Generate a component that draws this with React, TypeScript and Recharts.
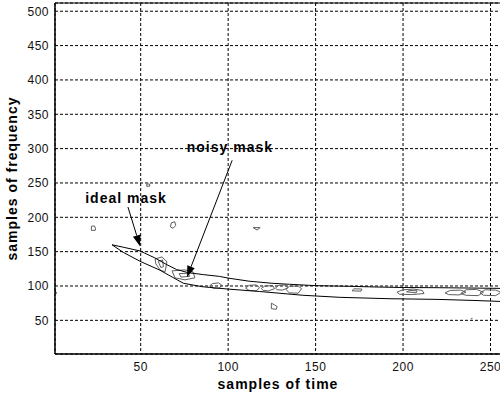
import React from 'react';
import {
  LineChart,
  Line,
  XAxis,
  YAxis,
  CartesianGrid,
  ReferenceArea,
  ReferenceLine,
  ReferenceDot,
  Label,
} from 'recharts';

// tick labels
const X_TICKS = [50, 100, 150, 200, 250];
const Y_TICKS = [50, 100, 150, 200, 250, 300, 350, 400, 450, 500];

// ideal mask contour (black): upper edge then lower edge back
const idealUpper = [
  [33.6, 160], [40, 156.5], [49.6, 151], [58, 141], [65, 131], [70.5, 124], [77, 119.5],
  [86, 116.5], [95, 114], [100, 111.5], [112, 107], [125, 104], [135, 102.5], [150, 100.5],
  [170, 99.5], [185, 98.5], [200, 97.8], [220, 97.5], [240, 97], [256, 96.5],
];
const idealLower = [
  [256, 77.5], [240, 79], [220, 80.5], [192, 81.5], [164, 83.5], [142.7, 86.5], [118, 92],
  [100, 95.5], [85, 99], [74.4, 104], [68, 113], [61, 123], [49.6, 136], [40, 149], [33.6, 160],
];
const idealEdge = [[1, 94], [1.8, 89]];

// noisy mask contours (grey)
const noisyA = [[58.2, 139.4], [62.2, 142.3], [65, 135.1], [63.9, 120.6], [61, 123.5], [58.7, 132.2], [58.2, 139.4]];
const noisyA2 = [[60, 136], [62.5, 138], [63, 128], [61.5, 127], [60, 136]];
const noisyB = [[67.9, 122], [75.3, 123.5], [79.9, 120.6], [81, 111.9], [75.3, 109], [69.6, 111.9], [67.9, 122]];
const noisyB2 = [[72, 118], [77, 118.5], [78, 114], [73, 113], [72, 118]];
const noisyC = [[89.5, 100.3], [91, 103.5], [94.5, 104.5], [96.5, 101], [95, 97], [91.5, 96.5], [89.5, 100.3]];
const noisyD = [[110, 97], [112, 101], [116, 101.5], [118, 97.5], [116, 93], [112, 93.5], [110, 97]];
const noisyD2 = [[119, 96.5], [121, 100], [125.5, 100.5], [126.5, 96], [123, 93], [120, 93.5], [119, 96.5]];
const noisyE = [[127, 97], [129, 101], [133, 101.5], [134, 97], [131, 94], [128, 94.5], [127, 97]];
const noisyE2 = [[133, 95], [135, 99.5], [140, 100], [142, 96], [140, 89.5], [135, 90], [133, 95]];
const noisyF = [[170.8, 93], [172, 96], [176.5, 95.5], [176, 92.5], [170.8, 93]];
const noisyG = [[196.5, 91], [200, 94.5], [206, 95.5], [211, 93.5], [212, 89], [205, 87.5], [198, 88], [196.5, 91]];
const noisyG2 = [[202, 91.5], [204, 93.5], [208, 93], [207.5, 90], [202, 91.5]];
const noisyH = [[224, 90], [227, 93.5], [233, 94], [236, 91], [232, 87], [226, 87.5], [224, 90]];
const noisyH2 = [[233, 89], [236, 94.5], [242, 95], [246, 91], [243, 86], [236, 86.5], [233, 89]];
const noisyH3 = [[244, 90], [247, 94.5], [253, 94], [256, 91], [253, 86], [246, 86.5], [244, 90]];
const noisyS1 = [[21.8, 181], [21.8, 187], [23.5, 187.5], [24.2, 184], [24, 181], [21.8, 181]];
const noisyS2 = [[67, 186], [67.5, 192], [69.5, 193.5], [70, 188], [68.5, 184], [67, 186]];
const noisyS3 = [[53.5, 245], [53.5, 248.5], [55, 248.5], [55.3, 245.5], [53.5, 245]];
const noisyS4 = [[114.3, 185], [118.3, 185], [116.5, 181.5], [114.3, 185]];
const noisyS5 = [[124.7, 75], [124.7, 67], [127.5, 66], [128, 70], [126.5, 72.5], [124.7, 75]];
const noisyS6 = [[238.7, 52], [239.7, 53]];

const NOISY = [
  noisyA, noisyA2, noisyB, noisyB2, noisyC, noisyD, noisyD2, noisyE, noisyE2, noisyF,
  noisyG, noisyG2, noisyH, noisyH2, noisyH3, noisyS1, noisyS2, noisyS3, noisyS4, noisyS5, noisyS6,
];

// annotations: [label x, label y], arrow start, arrow tip
const idealNote = { text: 'ideal mask', at: [41.6, 227.8], from: [42.7, 215], to: [49.6, 158] };
const noisyNote = { text: 'noisy mask', at: [101, 303], from: [102.3, 283], to: [76.5, 113] };

const pts = (a: number[][]) => a.map(([x, y]) => ({ x, y }));

const FONT = '"Liberation Sans", Arial, Helvetica, sans-serif';

const Arrow = (props: any) => {
  const { x1, y1, x2, y2 } = props;
  const ang = Math.atan2(y2 - y1, x2 - x1);
  const len = 11;
  const half = 4;
  const bx = x2 - len * Math.cos(ang);
  const by = y2 - len * Math.sin(ang);
  const px = -Math.sin(ang) * half;
  const py = Math.cos(ang) * half;
  return (
    <g>
      <line x1={x1} y1={y1} x2={bx} y2={by} stroke="#000" strokeWidth={1} />
      <polygon points={`${x2},${y2} ${bx + px},${by + py} ${bx - px},${by - py}`} fill="#000" />
    </g>
  );
};

const noteText = (text: string) => (props: any) => (
  <text
    x={props.cx}
    y={props.cy + 5}
    textAnchor="middle"
    fontFamily={FONT}
    fontWeight="bold"
    fontSize={14}
    letterSpacing={1}
    fill="#000"
  >
    {text}
  </text>
);

const tickStyle = { fontFamily: FONT, fontSize: 12, fill: '#111', letterSpacing: 0.5 };

const App: React.FC = () => {
  return (
    <div style={{ position: 'absolute', left: 0, top: 0, width: 500, height: 397, overflow: 'hidden', background: '#fff' }}>
      <LineChart width={501} height={397} margin={{ top: 3, right: 0, left: 0, bottom: 0 }}>
        <CartesianGrid stroke="#000" strokeDasharray="3 2" strokeWidth={1} />
        <XAxis
          dataKey="x"
          type="number"
          domain={[1, 256]}
          ticks={X_TICKS}
          allowDataOverflow
          height={43}
          tickSize={0}
          tickMargin={8}
          tick={tickStyle}
          axisLine={{ stroke: '#000' }}
        >
          <Label
            value="samples of time"
            position="insideBottom"
            offset={8}
            style={{ fontFamily: FONT, fontWeight: 'bold', fontSize: 14, fill: '#000', letterSpacing: 1 }}
          />
        </XAxis>
        <YAxis
          dataKey="y"
          type="number"
          domain={[1, 512]}
          ticks={Y_TICKS}
          allowDataOverflow
          width={55}
          tickSize={0}
          tickMargin={6}
          tick={tickStyle}
          axisLine={{ stroke: '#000' }}
        >
          <Label
            value="samples of frequency"
            angle={-90}
            position="insideLeft"
            offset={12}
            style={{ textAnchor: 'middle', fontFamily: FONT, fontWeight: 'bold', fontSize: 14, fill: '#000', letterSpacing: 1 }}
          />
        </YAxis>
        <ReferenceArea x1={1} x2={256} y1={1} y2={512} fill="none" stroke="#000" ifOverflow="visible" />

        {NOISY.map((c, i) => (
          <Line
            key={`noisy-${i}`}
            data={pts(c)}
            dataKey="y"
            stroke="#5e5e5e"
            strokeWidth={1}
            dot={false}
            isAnimationActive={false}
          />
        ))}
        <Line
          data={pts([...idealUpper, ...idealLower])}
          dataKey="y"
          stroke="#000"
          strokeWidth={1}
          dot={false}
          isAnimationActive={false}
        />
        <Line data={pts(idealEdge)} dataKey="y" stroke="#000" strokeWidth={1} dot={false} isAnimationActive={false} />

        {[idealNote, noisyNote].map((n) => (
          <ReferenceLine
            key={`arrow-${n.text}`}
            segment={[{ x: n.from[0], y: n.from[1] }, { x: n.to[0], y: n.to[1] }]}
            shape={Arrow}
            ifOverflow="visible"
          />
        ))}
        {[idealNote, noisyNote].map((n) => (
          <ReferenceDot
            key={`note-${n.text}`}
            x={n.at[0]}
            y={n.at[1]}
            r={0}
            shape={noteText(n.text)}
            ifOverflow="visible"
          />
        ))}
      </LineChart>
    </div>
  );
};

export default App;
